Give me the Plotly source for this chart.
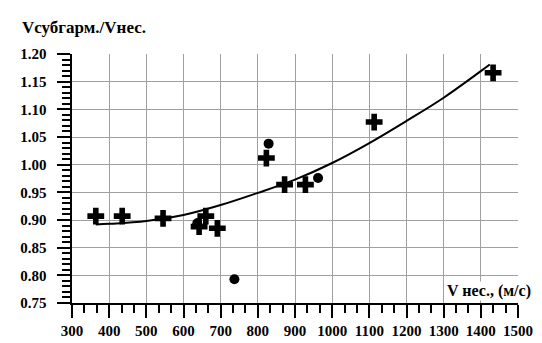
import plotly.graph_objects as go

# Crosses (+) series
cross_x = [364, 435, 545, 642, 660, 691, 823, 872, 928, 1113, 1433]
cross_y = [0.907, 0.907, 0.903, 0.888, 0.907, 0.885, 1.012, 0.964, 0.964, 1.077, 1.166]

# Circles series
circ_x = [637, 737, 829, 962]
circ_y = [0.894, 0.793, 1.038, 0.976]

# Trend curve
curve_x = [364, 400, 500, 600, 700, 800, 900, 1000, 1100, 1200, 1300, 1400, 1424]
curve_y = [0.892, 0.893, 0.898, 0.909, 0.927, 0.949, 0.973, 1.003, 1.039, 1.079, 1.121, 1.169, 1.181]

FONT = "Liberation Serif, Times New Roman, serif"

fig = go.Figure()
fig.add_trace(go.Scatter(x=curve_x, y=curve_y, mode="lines",
                         line=dict(color="black", width=2, shape="spline"),
                         showlegend=False, hoverinfo="skip"))
fig.add_trace(go.Scatter(x=cross_x, y=cross_y, mode="markers",
                         marker=dict(symbol="cross", size=14, color="black",
                                     line=dict(width=0)),
                         showlegend=False))
fig.add_trace(go.Scatter(x=circ_x, y=circ_y, mode="markers",
                         marker=dict(symbol="circle", size=10, color="black"),
                         showlegend=False))

fig.update_layout(
    width=542, height=343,
    margin=dict(l=60, r=32, t=46, b=43),
    paper_bgcolor="white", plot_bgcolor="white",
    font=dict(family=FONT, color="black", size=15),
    annotations=[
        dict(text="<b>Vсубгарм./Vнес.</b>", xref="paper", yref="paper",
             x=-52/450, y=1 + 27/254, xanchor="left", yanchor="middle",
             showarrow=False, font=dict(size=17, family=FONT, color="black")),
        dict(text="<b>V нес., (м/с)</b>", xref="paper", yref="paper",
             x=(437 - 60) / 450, y=12/254, xanchor="left", yanchor="middle",
             showarrow=False, bgcolor="white", borderpad=0,
             font=dict(size=16, family=FONT, color="black")),
    ],
)

fig.update_xaxes(
    range=[300, 1500], dtick=100, tick0=300,
    showgrid=True, gridcolor="#a0a0a0", gridwidth=1,
    showline=True, linecolor="black", linewidth=2,
    ticks="outside", ticklen=13, tickwidth=2, tickcolor="black",
    minor=dict(dtick=100 / 3, tick0=300, ticks="outside", ticklen=8,
               tickwidth=2, tickcolor="black", showgrid=False),
    tickfont=dict(size=15, family=FONT, color="black", weight="bold"),
    zeroline=False,
)
fig.update_yaxes(
    range=[0.75, 1.20], dtick=0.05, tick0=0.75, tickformat=".2f",
    showgrid=True, gridcolor="#a0a0a0", gridwidth=1,
    showline=True, linecolor="black", linewidth=2,
    ticks="outside", ticklen=13, tickwidth=2, tickcolor="black",
    minor=dict(dtick=0.01, tick0=0.75, ticks="outside", ticklen=8,
               tickwidth=2, tickcolor="black", showgrid=False),
    tickfont=dict(size=15, family=FONT, color="black", weight="bold"),
    ticksuffix="\u2002",
    zeroline=False,
)

fig.write_html("out.html")
